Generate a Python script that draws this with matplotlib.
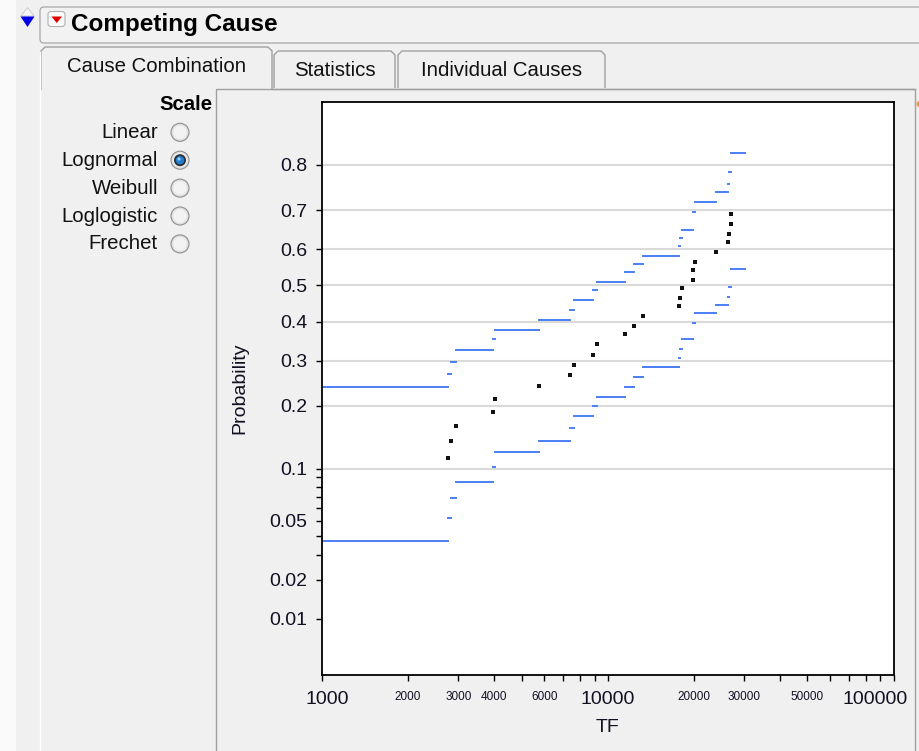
import matplotlib
matplotlib.use("Agg")
import matplotlib.pyplot as plt
import numpy as np
from matplotlib.patches import Rectangle, Circle, Polygon, FancyBboxPatch
from matplotlib.ticker import FixedLocator, NullLocator, NullFormatter
from matplotlib.transforms import ScaledTranslation
from statistics import NormalDist

plt.rcParams['font.family'] = ['Liberation Sans', 'DejaVu Sans']

# failure times and nonparametric estimate
tf = [2754, 2821, 2937, 3977, 4032, 5746, 7394, 7600, 8878, 9147,
      11467, 12389, 13259, 17713, 17900, 18147, 19926, 19926, 20201,
      23925, 26280, 26621, 26988, 26988]
estimate = [0.114, 0.138, 0.164, 0.188, 0.213, 0.241, 0.267, 0.289, 0.313, 0.342,
            0.367, 0.389, 0.416, 0.444, 0.466, 0.493, 0.515, 0.543, 0.565,
            0.593, 0.619, 0.640, 0.665, 0.691]
# simultaneous confidence bands, one level before the first failure and one after each
upper = [0.240, 0.268, 0.296, 0.325, 0.354, 0.379, 0.405, 0.431, 0.459, 0.487,
         0.510, 0.537, 0.559, 0.582, 0.608, 0.630, 0.651, 0.676, 0.697, 0.720,
         0.742, 0.761, 0.785, 0.804, 0.823]
lower = [0.0374, 0.0522, 0.0686, 0.0853, 0.102, 0.122, 0.139, 0.160, 0.181, 0.199,
         0.219, 0.239, 0.261, 0.284, 0.307, 0.328, 0.353, 0.375, 0.396, 0.423,
         0.446, 0.468, 0.496, 0.518, 0.546]
tf_end = 30295

x_min, x_max = 1000, 100000
y_min, y_max = 0.00326, 0.8996
x_ticks = [1000, 2000, 3000, 4000, 5000, 6000, 7000, 8000, 9000,
           10000, 20000, 30000, 40000, 50000, 60000, 70000, 80000, 90000, 100000]
x_labels = ['1000', '2000', '3000', '4000', '', '6000', '', '', '',
            '10000', '20000', '30000', '', '50000', '', '', '', '', '100000']
big_labels = ['1000', '10000', '100000']
y_ticks = [0.01, 0.02, 0.05, 0.1, 0.2, 0.3, 0.4, 0.5, 0.6, 0.7, 0.8]
y_labels = ['0.01', '0.02', '0.05', '0.1', '0.2', '0.3', '0.4', '0.5', '0.6', '0.7', '0.8']
y_minor = [0.03, 0.04, 0.06, 0.07, 0.08, 0.09]
y_grid = [0.1, 0.2, 0.3, 0.4, 0.5, 0.6, 0.7, 0.8]

scales = ['Linear', 'Lognormal', 'Weibull', 'Loglogistic', 'Frechet']
selected = 'Lognormal'
tabs = ['Cause Combination', 'Statistics', 'Individual Causes']

nd = NormalDist()
_ppf = np.vectorize(nd.inv_cdf, otypes=[float])
_cdf = np.vectorize(nd.cdf, otypes=[float])


def prob_fwd(p):
    p = np.clip(np.asarray(p, dtype=float), 1e-12, 1 - 1e-12)
    p = np.where(np.isfinite(p), p, 0.5)
    return _ppf(p)


def prob_inv(z):
    return _cdf(np.asarray(z, dtype=float))


W, H = 920, 751
fig = plt.figure(figsize=(W / 100, H / 100), dpi=100, facecolor='#f0f0f0')

# ---- window chrome, in pixel coordinates ----
bg = fig.add_axes([0, 0, 1, 1])
bg.set_xlim(0, W)
bg.set_ylim(H, 0)
bg.axis('off')
gui = dict(fontsize=14.7, color='#111111')
edge = '#a0a0a0'

bg.add_patch(Rectangle((0, 0), 16, H, facecolor='#fafafa', edgecolor='none'))
bg.add_patch(FancyBboxPatch((40, 7), 900, 36, boxstyle='round,pad=0,rounding_size=4',
                            facecolor='#f2f2f2', edgecolor='#a8a8a8', lw=0.9))
bg.add_patch(Polygon([(21, 16), (34, 16), (27.5, 7.5)], closed=True,
                     facecolor='#f6f6f6', edgecolor='#c8c8c8', lw=0.6))
bg.add_patch(Polygon([(20.5, 16.5), (34.5, 16.5), (27.5, 27)], closed=True,
                     facecolor='#0000e6', edgecolor='none'))
bg.add_patch(FancyBboxPatch((48, 11.5), 17, 15, boxstyle='round,pad=0,rounding_size=3',
                            facecolor='#fbfbfb', edgecolor='#b0b0b0', lw=0.8))
bg.add_patch(Polygon([(51.5, 16.5), (62, 16.5), (56.7, 23)], closed=True,
                     facecolor='#e00000', edgecolor='none'))
bg.text(71, 24, 'Competing Cause', fontsize=17.5, fontweight='bold', va='center',
        ha='left', color='#000000')

tab_shapes = [(41, 272, 47, 90), (274, 395, 51, 88), (398, 605, 51, 88)]
tab_text_y = [67, 71, 71]
for name, (l, r, t, b), ty in zip(tabs, tab_shapes, tab_text_y):
    bg.add_patch(Polygon([(l, b), (l, t + 4), (l + 4, t), (r - 4, t), (r, t + 4), (r, b)],
                         closed=False, fill=False, edgecolor=edge, lw=1.0))
    bg.text((l + r) / 2, ty, name, ha='center', va='center', **gui)
bg.plot([40, 40], [52, H], color='#ffffff', lw=1.0)
bg.plot([216, 216, 915, 915], [H, 88.5, 88.5, H], color=edge, lw=1.0)
bg.plot([272, 915], [88.5, 88.5], color=edge, lw=1.0)
bg.add_patch(Circle((920, 104), 3.5, facecolor='#e8a040', edgecolor='none'))

bg.text(213, 105, 'Scale', ha='right', va='center', fontsize=14.7, fontweight='bold',
        color='#000000')
for i, name in enumerate(scales):
    y = 132.3 + i * 27.9
    bg.text(158, y, name, ha='right', va='center', **gui)
    bg.add_patch(Circle((180, y), 9, facecolor='#e2e2e2', edgecolor='#8e8e8e', lw=0.8))
    bg.add_patch(Circle((180, y), 6.8, facecolor='#f3f3f3', edgecolor='none'))
    if name == selected:
        bg.add_patch(Circle((180, y), 6.0, facecolor='#2d2d2d', edgecolor='none'))
        bg.add_patch(Circle((180, y), 4.2, facecolor='#1f7fd0', edgecolor='none'))
        bg.add_patch(Circle((179, y - 1.2), 1.6, facecolor='#8fd0ff', edgecolor='none'))

# ---- probability plot ----
L, R, T, B = 322, 893.5, 102.3, 675
ax = fig.add_axes([L / W, (H - B) / H, (R - L) / W, (B - T) / H])
ax.set_facecolor('white')
ax.set_xscale('log')
ax.set_yscale('function', functions=(prob_fwd, prob_inv))
ax.set_xlim(x_min, x_max)
ax.set_ylim(y_min, y_max)

for g in y_grid:
    ax.axhline(g, color='#dadada', lw=1.5, zorder=0)

blue = '#4a7ef2'
starts = np.r_[x_min, tf]
ends = np.r_[tf, tf_end]
for band in (upper, lower):
    ax.hlines(band, starts, ends, colors=blue, lw=1.4, capstyle='projecting', zorder=2)
ax.plot(tf, estimate, 's', color='#111111', ms=2.9, mew=0, zorder=3)

ax.xaxis.set_major_locator(FixedLocator(x_ticks))
ax.xaxis.set_minor_locator(NullLocator())
ax.set_xticks(x_ticks, x_labels)
ax.yaxis.set_major_locator(FixedLocator(y_ticks))
ax.set_yticks(y_ticks, y_labels)
ax.yaxis.set_minor_locator(FixedLocator(y_minor))
ax.yaxis.set_minor_formatter(NullFormatter())
ax.tick_params(axis='both', which='both', direction='out', length=4.4, width=1.0,
               color='black')
ax.tick_params(axis='y', which='major', labelsize=14, pad=6.3, labelcolor='#111122')
ax.tick_params(axis='x', which='major', pad=7, labelcolor='#111122')
for lab in ax.get_xticklabels():
    txt = lab.get_text()
    lab.set_fontsize(14 if txt in big_labels else 8.5)
    if txt == '1000':
        lab.set_transform(lab.get_transform() + ScaledTranslation(5.5 / 100, 0, fig.dpi_scale_trans))
    if txt == '100000':
        lab.set_transform(lab.get_transform() + ScaledTranslation(-18 / 100, 0, fig.dpi_scale_trans))

for s in ax.spines.values():
    s.set_linewidth(1.3)
    s.set_color('black')

ax.set_xlabel('TF', fontsize=14, color='#111122')
ax.xaxis.set_label_coords(0.5, -0.077)
ax.set_ylabel('Probability', fontsize=14, color='#111122')
ax.yaxis.set_label_coords(-0.128, 0.5)

fig.savefig('out.png', dpi=100, facecolor=fig.get_facecolor())
